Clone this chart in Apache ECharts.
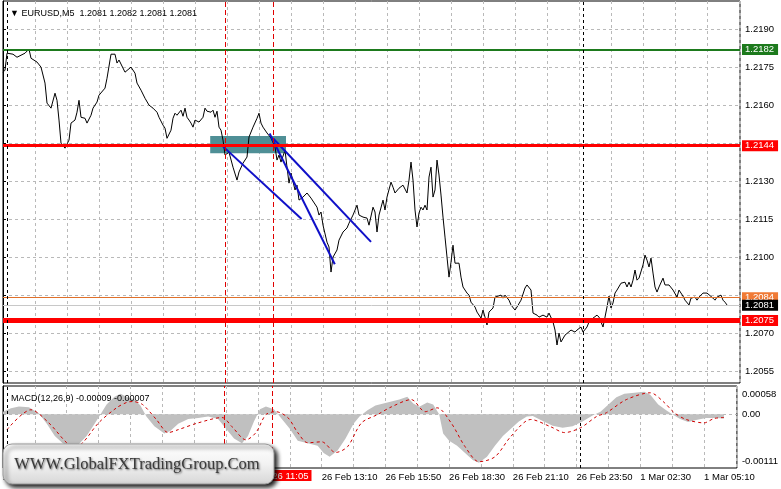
<!DOCTYPE html>
<html><head><meta charset="utf-8">
<script src="https://cdn.jsdelivr.net/npm/echarts@6/dist/echarts.min.js"></script>
<style>html,body{margin:0;padding:0;background:#fff}#c{width:781px;height:489px}</style>
</head><body><div id="c"></div>
<script>
// ---- data (bar index = 5-minute bars counted from 25 Feb 23:50) ----
const closeBar = [0,1,2,3,5,7,8,11,13,14,17,19,21,22,24,26,27,28,29,31,32,33,34,36,37,38,39,41,42,44,45,47,48,51,52,54,56,57,58,61,62,64,66,67,69,71,73,75,77,78,80,81,82,84,85,86,87,89,90,91,92,93,94,95,96,98,100,101,102,104,105,106,107,108,109,110,111,113,115,117,118,120,122,123,125,127,128,129,130,132,133,134,136,137,138,139,141,142,143,144,146,147,148,150,151,152,154,155,157,158,159,160,162,163,164,165,167,168,170,172,173,175,177,178,180,182,183,185,186,187,188,190,191,192,194,195,196,198,200,202,203,204,205,206,207,208,209,210,211,212,213,214,215,216,217,218,219,220,221,222,223,224,225,226,227,228,229,230,232,233,234,236,237,239,240,241,242,243,244,245,246,247,249,250,251,253,254,256,257,259,261,262,264,265,267,268,270,272,273,275,276,277,278,279,281,282,284,286,287,289,290,292,293,295,297,298,299,300,301,302,303,304,305,306,307,309,311,312,313,314,315,316,317,318,320,321,322,323,324,325,326,327,328,330,331,333,335,337,338,340,341,343,344,346,347,348,349,350,352,353,355,356,357,359,360,361,362];
const closePrice = [1.21730,1.21738,1.21805,1.21809,1.21801,1.21789,1.21785,1.21805,1.21821,1.21785,1.21770,1.21750,1.21687,1.21608,1.21588,1.21647,1.21619,1.21541,1.21450,1.21430,1.21430,1.21462,1.21529,1.21541,1.21572,1.21619,1.21552,1.21548,1.21529,1.21560,1.21588,1.21612,1.21639,1.21667,1.21706,1.21801,1.21801,1.21766,1.21778,1.21730,1.21726,1.21750,1.21726,1.21687,1.21659,1.21627,1.21600,1.21588,1.21572,1.21552,1.21521,1.21509,1.21469,1.21501,1.21548,1.21568,1.21560,1.21580,1.21556,1.21588,1.21552,1.21541,1.21529,1.21513,1.21541,1.21533,1.21552,1.21588,1.21576,1.21572,1.21580,1.21552,1.21576,1.21513,1.21501,1.21462,1.21403,1.21414,1.21355,1.21304,1.21336,1.21371,1.21395,1.21474,1.21513,1.21548,1.21568,1.21529,1.21513,1.21490,1.21493,1.21470,1.21434,1.21383,1.21403,1.21375,1.21422,1.21355,1.21292,1.21332,1.21265,1.21284,1.21225,1.21237,1.21233,1.21253,1.21233,1.21237,1.21197,1.21166,1.21178,1.21126,1.21059,1.21040,1.20941,1.21000,1.21028,1.21067,1.21099,1.21115,1.21134,1.21166,1.21205,1.21166,1.21158,1.21154,1.21126,1.21197,1.21178,1.21099,1.21166,1.21225,1.21186,1.21237,1.21296,1.21276,1.21253,1.21272,1.21284,1.21253,1.21304,1.21375,1.21304,1.21186,1.21119,1.21174,1.21197,1.21186,1.21205,1.21186,1.21316,1.21355,1.21237,1.21265,1.21383,1.21324,1.21245,1.21158,1.21079,1.21000,1.20921,1.20980,1.21047,1.20976,1.20980,1.20976,1.20921,1.20882,1.20858,1.20850,1.20822,1.20803,1.20783,1.20759,1.20791,1.20763,1.20732,1.20783,1.20779,1.20799,1.20842,1.20838,1.20850,1.20838,1.20850,1.20830,1.20811,1.20791,1.20803,1.20830,1.20878,1.20890,1.20870,1.20779,1.20771,1.20763,1.20771,1.20763,1.20779,1.20744,1.20712,1.20653,1.20700,1.20665,1.20692,1.20692,1.20712,1.20704,1.20712,1.20724,1.20704,1.20724,1.20744,1.20759,1.20771,1.20763,1.20744,1.20724,1.20763,1.20803,1.20846,1.20799,1.20819,1.20858,1.20870,1.20897,1.20901,1.20882,1.20901,1.20882,1.20909,1.20949,1.20909,1.20917,1.20969,1.21008,1.20988,1.20961,1.20996,1.20937,1.20882,1.20862,1.20882,1.20917,1.20890,1.20890,1.20870,1.20842,1.20870,1.20846,1.20830,1.20811,1.20838,1.20842,1.20830,1.20842,1.20838,1.20858,1.20858,1.20858,1.20838,1.20830,1.20842,1.20850,1.20830,1.20822,1.20811];

const macdBar = [0,4,8,13,18,22,26,30,34,38,42,46,49,52,56,59,62,66,69,72,76,81,84,88,93,98,103,108,112,116,120,123,126,129,132,136,140,144,148,153,158,161,164,168,172,176,179,183,187,191,195,199,203,206,209,213,216,219,221,224,228,232,236,239,243,247,251,255,259,263,266,271,276,281,286,291,296,300,304,308,312,317,322,325,329,333,336,340,344,348,353,358,362];
const macdMain = [0.00005,0.00012,0.00016,0.00014,0.00002,-0.00020,-0.00045,-0.00060,-0.00068,-0.00062,-0.00045,-0.00020,0.00000,0.00020,0.00036,0.00042,0.00036,0.00030,0.00018,-0.00005,-0.00025,-0.00040,-0.00035,-0.00020,-0.00010,-0.00008,-0.00005,-0.00010,-0.00030,-0.00050,-0.00060,-0.00045,-0.00015,0.00010,0.00016,0.00010,-0.00010,-0.00030,-0.00055,-0.00060,-0.00065,-0.00080,-0.00088,-0.00075,-0.00050,-0.00020,-0.00005,0.00008,0.00018,0.00022,0.00026,0.00030,0.00036,0.00022,0.00015,0.00024,0.00020,0.00000,-0.00040,-0.00055,-0.00065,-0.00080,-0.00095,-0.00100,-0.00088,-0.00065,-0.00045,-0.00030,-0.00015,-0.00005,-0.00004,-0.00014,-0.00024,-0.00028,-0.00025,-0.00015,-0.00003,0.00005,0.00020,0.00035,0.00042,0.00044,0.00046,0.00040,0.00020,0.00008,0.00000,-0.00010,-0.00016,-0.00012,-0.00008,-0.00008,-0.00009];

const signalBar = [2,14,23,32,36,40,48,57,62,65,70,77,83,88,98,110,115,122,127,132,137,143,148,153,160,167,173,180,188,195,205,212,218,225,232,239,247,255,265,275,282,290,298,303,313,325,332,337,343,352,357,362];
const macdSignal = [-0.00032,0.00009,-0.00018,-0.00059,-0.00067,-0.00059,-0.00018,0.00013,0.00024,0.00026,0.00020,-0.00011,-0.00038,-0.00032,-0.00018,-0.00007,-0.00026,-0.00053,-0.00038,-0.00001,0.00005,-0.00007,-0.00038,-0.00059,-0.00057,-0.00079,-0.00067,-0.00018,-0.00001,0.00015,0.00030,0.00005,0.00013,-0.00018,-0.00067,-0.00098,-0.00088,-0.00046,-0.00011,-0.00026,-0.00038,-0.00028,-0.00005,0.00003,0.00030,0.00044,0.00024,0.00003,-0.00011,-0.00018,-0.00009,-0.00007];

// levels drawn as horizontal lines
const levelPrices = [1.2182, 1.2144, 1.2084, 1.2081, 1.2075];
const levelLabels = ['1.2182', '1.2144', '1.2084', '1.2081', '1.2075'];

// trend lines [startBar, startPrice, endBar, endPrice]
const trendLines = [
  [109.3, 1.21442, 149.3, 1.21150],
  [133.3, 1.21488, 165.9, 1.20972],
  [135.0, 1.21469, 184.0, 1.21060]
];
// shaded zone [fromBar, topPrice, toBar, bottomPrice]
const zoneBox = [103.6, 1.21478, 141.5, 1.21410];

// vertical markers (bar indices)
const redVLines = [111, 135];
const daySeparators = [2, 290];
const selectedTimeText = '2021.02.26 11:05';

// axes
const priceTicks = [1.2055, 1.2070, 1.2085, 1.2100, 1.2115, 1.2130, 1.2145, 1.2160, 1.2175, 1.2190];
const priceTicksCovered = [1.2085, 1.2145];
const timeLabels = ['25 Feb 23:50','26 Feb 02:30','26 Feb 05:10','26 Feb 07:50','26 Feb 10:30','26 Feb 13:10','26 Feb 15:50','26 Feb 18:30','26 Feb 21:10','26 Feb 23:50','1 Mar 02:30','1 Mar 05:10'];
const timeLabelCovered = 4;
const barsPerLabel = 32;
const macdTicks = [-0.00111, 0, 0.00058];
const macdTickLabels = ['-0.00111', '0.00', '0.00058'];

const titleText = '\u25BC EURUSD,M5  1.2081 1.2082 1.2081 1.2081';
const macdTitle = 'MACD(12,26,9) -0.00009 -0.00007';
const logoText = 'WWW.GlobalFXTradingGroup.Com';

// ---- chart ----
const FONT = 'Liberation Sans';
const GRID_C = '#b9b9b9';
const chart = echarts.init(document.getElementById('c'));

const levelStyles = [
  {line:{color:'#1d7a1d', width:2}, box:'#1d7a1d', txt:'#ffffff'},
  {line:{color:'#ff0000', width:3}, box:'#ff0000', txt:'#ffffff'},
  {line:{color:'#e0702a', width:1}, box:'#f07a35', txt:'#ffffff'},
  {line:{color:'#c8c8c8', width:1}, box:'#000000', txt:'#ffffff'},
  {line:{color:'#ff0000', width:5}, box:'#ff0000', txt:'#ffffff'}
];

const levelMarks = levelPrices.map((p, k) => ({
  yAxis: p,
  lineStyle: Object.assign({type:'solid'}, levelStyles[k].line),
  label: {
    show: true, position: 'end', distance: 2,
    formatter: levelLabels[k],
    backgroundColor: levelStyles[k].box, color: levelStyles[k].txt,
    padding: [1, 4, 0, 3], fontSize: 9.5, fontFamily: FONT
  }
}));

const noLabel = {show:false};
const vMarksMain = [
  ...redVLines.map(b => ({xAxis: b, label: noLabel, lineStyle:{color:'#e00000', width:1, type:[5,3]}})),
  ...daySeparators.map(b => ({xAxis: b, label: noLabel, lineStyle:{color:'#000', width:1, type:[3,3]}}))
];
const vMarksMacd = [
  ...redVLines.map(b => ({xAxis: b, lineStyle:{color:'#e00000', width:1, type:[5,3]},
     label: b === 135 ? {show:true, position:'start', distance:2, formatter:selectedTimeText,
       backgroundColor:'#ff0000', color:'#fff', padding:[1,3,0,3], fontSize:9.5, fontFamily:FONT} : noLabel})),
  ...daySeparators.map(b => ({xAxis: b, label: noLabel, lineStyle:{color:'#000', width:1, type:[3,3]}}))
];

const splitStyle = {show:true, lineStyle:{color:GRID_C, width:1, type:[3,3]}};

const option = {
  animation: false,
  backgroundColor: '#ffffff',
  textStyle: {fontFamily: FONT},
  title: [
    {text: titleText, left: 5, top: 4, textStyle:{fontSize:9, fontWeight:'normal', color:'#000', fontFamily:FONT}},
    {text: macdTitle, left: 6, top: 389, textStyle:{fontSize:9, fontWeight:'normal', color:'#000', fontFamily:FONT}}
  ],
  grid: [
    {left:3, right:41, top:1, bottom:106, show:true, borderColor:'#000', borderWidth:1, backgroundColor:'rgba(0,0,0,0)'},
    {left:3, right:41, top:386, bottom:21, show:true, borderColor:'#000', borderWidth:1, backgroundColor:'rgba(0,0,0,0)'}
  ],
  xAxis: [
    {gridIndex:0, type:'value', min:0, max:368.5, interval:16,
     axisLine:{show:false}, axisTick:{show:false}, axisLabel:{show:false}, splitLine:splitStyle},
    {gridIndex:1, type:'value', min:0, max:368.5, interval:16,
     axisLine:{show:false}, axisTick:{show:false}, splitLine:splitStyle,
     axisLabel:{show:true, align:'left', margin:4, fontSize:9.5, color:'#000', fontFamily:FONT,
       formatter: v => {
         if (v % barsPerLabel !== 0) return '';
         const k = v / barsPerLabel;
         if (k === timeLabelCovered) return '';
         return timeLabels[k] || '';
       }}}
  ],
  yAxis: [
    {gridIndex:0, type:'value', position:'right', min:1.20503, max:1.22011, scale:true,
     axisLine:{show:true, lineStyle:{color:'#000'}},
     axisTick:{show:true, length:3, customValues: priceTicks, lineStyle:{color:'#000'}},
     axisLabel:{customValues: priceTicks.filter(t => !priceTicksCovered.includes(t)), margin:5,
       fontSize:9.5, color:'#000', fontFamily:FONT, formatter: v => v.toFixed(4)},
     splitLine: splitStyle},
    {gridIndex:1, type:'value', position:'right', min:-0.00111, max:0.00058,
     axisLine:{show:true, lineStyle:{color:'#000'}},
     axisTick:{show:false, customValues:[0]},
     axisLabel:{customValues: macdTicks, margin:5, fontSize:9.5, color:'#000', fontFamily:FONT,
       formatter: v => {
         let k = 0, best = 1;
         macdTicks.forEach((t, j) => { if (Math.abs(t - v) < best) { best = Math.abs(t - v); k = j; } });
         const tag = k === 0 ? 'lo' : (k === 2 ? 'hi' : 'mid');
         return '{' + tag + '|' + macdTickLabels[k] + '}';
       },
       rich: {
         hi: {fontSize:9.5, color:'#000', padding:[16,0,0,0], fontFamily:FONT},
         mid: {fontSize:9.5, color:'#000', fontFamily:FONT},
         lo: {fontSize:9.5, color:'#000', padding:[0,0,14,0], fontFamily:FONT}
       }},
     splitLine: splitStyle}
  ],
  series: [
    {type:'line', name:'zone', xAxisIndex:0, yAxisIndex:0, data:[], silent:true,
     markArea:{silent:true, itemStyle:{color:'#4f8f96', opacity:1},
       data:[[{coord:[zoneBox[0], zoneBox[1]]}, {coord:[zoneBox[2], zoneBox[3]]}]]}},
    {type:'line', name:'EURUSD', xAxisIndex:0, yAxisIndex:0, z:3,
     data: closeBar.map((b, k) => [b, closePrice[k]]),
     showSymbol:false, symbol:'none', lineStyle:{color:'#000', width:1}, silent:true,
     markLine:{silent:true, symbol:'none', precision:6, animation:false, data:[...levelMarks, ...vMarksMain]}},
    ...trendLines.map(t => ({type:'line', xAxisIndex:0, yAxisIndex:0, z:4, silent:true,
      data:[[t[0], t[1]], [t[2], t[3]]], symbol:'none', lineStyle:{color:'#1010c8', width:2}})),
    {type:'line', name:'MACD', xAxisIndex:1, yAxisIndex:1, silent:true,
     data: macdBar.map((b, k) => [b, macdMain[k]]), symbol:'none',
     lineStyle:{width:0, color:'#c0c0c0'}, areaStyle:{color:'#c0c0c0', opacity:1, origin:0},
     markLine:{silent:true, symbol:'none', precision:6, data: vMarksMacd}},
    {type:'line', name:'Signal', xAxisIndex:1, yAxisIndex:1, silent:true, z:4,
     data: signalBar.map((b, k) => [b, macdSignal[k]]), symbol:'none', smooth:0.3,
     lineStyle:{color:'#d00000', width:1, type:[3,3]}}
  ],
  graphic: [
    {type:'rect', z:200, shape:{x:3, y:444, width:271, height:40, r:9},
     style:{fill:new echarts.graphic.LinearGradient(0,0,0,1,[{offset:0,color:'#ffffff'},{offset:0.5,color:'#f2f2f2'},{offset:1,color:'#d6d6d6'}]),
       stroke:'#9a9a9a', lineWidth:1, shadowBlur:4, shadowColor:'rgba(0,0,0,0.9)', shadowOffsetX:3, shadowOffsetY:3}},
    {type:'text', z:201, x:137, y:465,
     style:{text:logoText, font:'16.5px "Liberation Serif"', fill:'#3a3a3a', align:'center', verticalAlign:'middle',
       textShadowColor:'rgba(0,0,0,0.55)', textShadowBlur:2, textShadowOffsetX:1, textShadowOffsetY:1}}
  ]
};
chart.setOption(option);
</script></body></html>
